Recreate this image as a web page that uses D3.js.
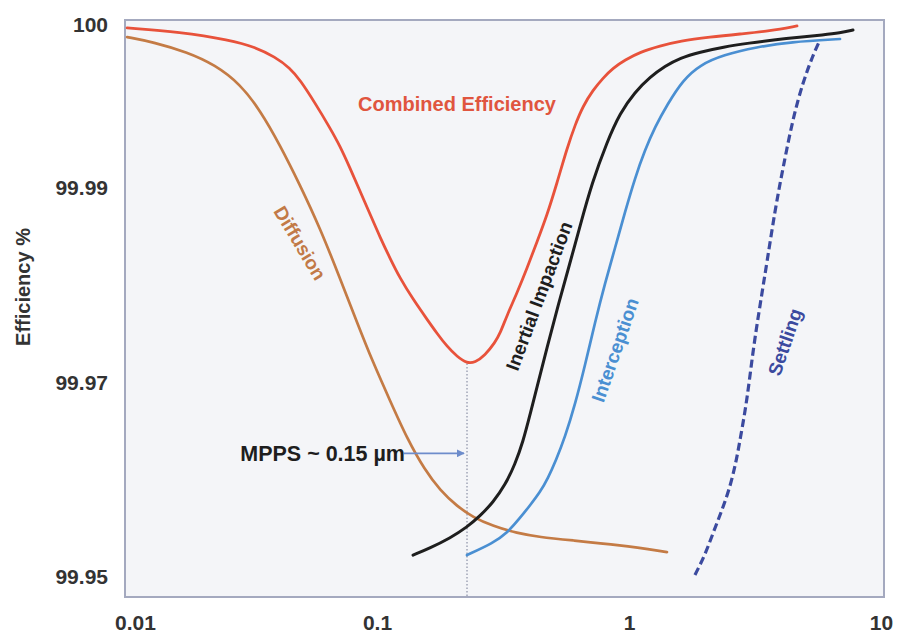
<!DOCTYPE html>
<html>
<head>
<meta charset="utf-8">
<script src="https://cdn.jsdelivr.net/npm/d3@7"></script>
<style>
  html, body { margin: 0; padding: 0; background: #ffffff; }
  svg { display: block; }
  text { font-family: "Liberation Sans", Arial, Helvetica, sans-serif; font-weight: bold; }
</style>
</head>
<body>
<svg id="chart" width="903" height="635"></svg>
<script>
// ---------- DATA (particle diameter in µm, efficiency in %) ----------
const xTicks = [0.01, 0.1, 1, 10];
const xTickLabels = ["0.01", "0.1", "1", "10"];
const yTicks = [99.95, 99.97, 99.99, 100];
const yTickLabels = ["99.95", "99.97", "99.99", "100"];

const combinedX = [0.0102, 0.0165, 0.0261, 0.0328, 0.0394, 0.0452, 0.0495, 0.0568, 0.0651, 0.0713, 0.0781, 0.0856, 0.0938, 0.1028, 0.1126, 0.1234, 0.139, 0.158, 0.173, 0.1896, 0.2077, 0.2276, 0.245, 0.268, 0.294, 0.308, 0.328, 0.359, 0.394, 0.431, 0.473, 0.518, 0.568, 0.611, 0.657, 0.720, 0.789, 0.864, 0.964, 1.106, 1.327, 1.594, 2.096, 2.757, 3.626, 4.642];
const combinedY = [99.99982, 99.99957, 99.99908, 99.99865, 99.99804, 99.99736, 99.99663, 99.99521, 99.99368, 99.99258, 99.99123, 99.98969, 99.98733, 99.98496, 99.98280, 99.98075, 99.97859, 99.97653, 99.97509, 99.97375, 99.97272, 99.97201, 99.97211, 99.97283, 99.97416, 99.97509, 99.97694, 99.97920, 99.98177, 99.98445, 99.98722, 99.99031, 99.99245, 99.99387, 99.99503, 99.99601, 99.99675, 99.99736, 99.99785, 99.99834, 99.99871, 99.99902, 99.99926, 99.99945, 99.99963, 99.99994];

const diffusionX = [0.0102, 0.0129, 0.0176, 0.0228, 0.0286, 0.0343, 0.0412, 0.0495, 0.0594, 0.0713, 0.0833, 0.0964, 0.1126, 0.1315, 0.155, 0.178, 0.2077, 0.240, 0.289, 0.359, 0.4435, 0.583, 0.921, 1.415];
const diffusionY = [99.99926, 99.99896, 99.99834, 99.99755, 99.99638, 99.99479, 99.99264, 99.99018, 99.98589, 99.98075, 99.97622, 99.97211, 99.96820, 99.96429, 99.96100, 99.95895, 99.95730, 99.95617, 99.95524, 99.95452, 99.95411, 99.95380, 99.95329, 99.95257];

const impactionX = [0.139, 0.162, 0.195, 0.2276, 0.256, 0.289, 0.322, 0.353, 0.380, 0.405, 0.431, 0.473, 0.523, 0.583, 0.639, 0.713, 0.818, 0.921, 1.056, 1.212, 1.390, 1.594, 1.913, 2.360, 3.021, 3.728, 4.771, 5.887, 6.877, 7.743];
const impactionY = [99.95226, 99.95298, 99.95401, 99.95514, 99.95627, 99.95771, 99.95946, 99.96162, 99.96398, 99.96676, 99.96954, 99.97365, 99.97797, 99.98229, 99.98609, 99.99031, 99.99282, 99.99460, 99.99589, 99.99681, 99.99748, 99.99798, 99.99834, 99.99865, 99.99890, 99.99908, 99.99926, 99.99939, 99.99951, 99.99969];

const interceptionX = [0.2276, 0.289, 0.328, 0.369, 0.405, 0.4435, 0.477, 0.513, 0.557, 0.611, 0.669, 0.733, 0.803, 0.880, 0.964, 1.056, 1.157, 1.268, 1.415, 1.638, 1.913, 2.360, 3.221, 4.354, 6.877];
const interceptionY = [99.95226, 99.95350, 99.95452, 99.95607, 99.95740, 99.95874, 99.96018, 99.96203, 99.96440, 99.96779, 99.97180, 99.97622, 99.98023, 99.98383, 99.98753, 99.99061, 99.99233, 99.99374, 99.99509, 99.99663, 99.99755, 99.99816, 99.99865, 99.99896, 99.99914];

const settlingX = [1.827, 2.002, 2.154, 2.339, 2.516, 2.658, 2.757, 2.940, 3.105, 3.310, 3.528, 3.797, 4.084, 4.475, 4.903, 5.373, 5.727];
const settlingY = [99.95021, 99.95226, 99.95452, 99.95689, 99.95925, 99.96183, 99.96409, 99.96820, 99.97334, 99.97797, 99.98239, 99.98774, 99.99123, 99.99429, 99.99650, 99.99816, 99.99908];

const mppsX = 0.2276;          // position of the MPPS marker line
const mppsY = 99.97201;        // minimum of combined efficiency
const mppsArrowFromX = 0.128;  // arrow tail
const mppsArrowY = 99.96275;

const seriesNames = ["Combined Efficiency", "Diffusion", "Inertial Impaction", "Interception", "Settling"];

// ---------- LAYOUT ----------
const svg = d3.select("#chart");
const plot = { left: 125, right: 884, top: 20, bottom: 597 };

const x = d3.scaleLog().domain([0.01, 10]).range([125, 881]);
const y = d3.scaleLinear().domain(yTicks).range([577, 383, 188, 25]);

// plot background + frame
svg.append("rect")
  .attr("x", plot.left).attr("y", plot.top)
  .attr("width", plot.right - plot.left).attr("height", plot.bottom - plot.top)
  .attr("fill", "#f4f5f8")
  .attr("stroke", "#a4a9bf").attr("stroke-width", 2);

// axes
const yAxis = d3.axisLeft(y).tickValues(yTicks).tickSize(0).tickPadding(17)
  .tickFormat((d) => yTickLabels[yTicks.indexOf(d)]);
const gy = svg.append("g").attr("transform", `translate(${plot.left},0)`).call(yAxis);
gy.select(".domain").remove();
gy.selectAll("text").attr("font-size", 21).attr("fill", "#333").style("font-family", null);

const xAxis = d3.axisBottom(x).tickValues(xTicks).tickSize(0).tickPadding(18)
  .tickFormat((d) => xTickLabels[xTicks.indexOf(d)]);
const gx = svg.append("g").attr("transform", `translate(0,${plot.bottom})`).call(xAxis);
gx.select(".domain").remove();
gx.selectAll("text").attr("font-size", 21).attr("fill", "#333").style("font-family", null)
  .attr("dx", (d, i) => i === 0 ? 10 : 0);

// y axis title
svg.append("text")
  .attr("transform", "translate(23,287) rotate(-90)")
  .attr("text-anchor", "middle").attr("dy", "0.35em")
  .attr("font-size", 20).attr("fill", "#333")
  .text("Efficiency %");

// ---------- CURVES ----------
const line = d3.line().x(d => x(d[0])).y(d => y(d[1])).curve(d3.curveBasis);
const zip = (a, b) => a.map((v, i) => [v, b[i]]);

// MPPS dotted vertical
svg.append("line")
  .attr("x1", x(mppsX)).attr("x2", x(mppsX))
  .attr("y1", y(mppsY)).attr("y2", plot.bottom - 1)
  .attr("stroke", "#8a90a6").attr("stroke-width", 1.2).attr("stroke-dasharray", "1.5,2");

const series = [
  { xs: diffusionX, ys: diffusionY, color: "#c47b45", w: 2.7 },
  { xs: interceptionX, ys: interceptionY, color: "#4a8fd2", w: 2.7 },
  { xs: settlingX, ys: settlingY, color: "#3b4a9f", w: 3.2, dash: "8,4" },
  { xs: impactionX, ys: impactionY, color: "#1e1e1e", w: 3 },
  { xs: combinedX, ys: combinedY, color: "#e8523b", w: 2.8 }
];
series.forEach(s => {
  svg.append("path")
    .attr("d", line(zip(s.xs, s.ys)))
    .attr("fill", "none")
    .attr("stroke", s.color).attr("stroke-width", s.w)
    .attr("stroke-linecap", s.dash ? "butt" : "round")
    .attr("stroke-dasharray", s.dash || null);
});

// MPPS arrow
const defs = svg.append("defs");
defs.append("marker").attr("id", "arrow")
  .attr("viewBox", "0 0 10 10").attr("refX", 9).attr("refY", 5)
  .attr("markerWidth", 5).attr("markerHeight", 5).attr("orient", "auto")
  .append("path").attr("d", "M0,0 L10,5 L0,10 Z").attr("fill", "#6d8ccb");
svg.append("line")
  .attr("x1", x(mppsArrowFromX)).attr("x2", x(mppsX) - 3)
  .attr("y1", y(mppsArrowY)).attr("y2", y(mppsArrowY))
  .attr("stroke", "#6d8ccb").attr("stroke-width", 1.6)
  .attr("marker-end", "url(#arrow)");

// ---------- LABELS ----------
const labels = [
  { t: seriesNames[0], cx: 457, cy: 104, rot: 0, color: "#e0553f", size: 20 },
  { t: seriesNames[1], cx: 300, cy: 243, rot: 59, color: "#c27a47", size: 19 },
  { t: seriesNames[2], cx: 539, cy: 296, rot: -69.5, color: "#1e1e1e", size: 19 },
  { t: seriesNames[3], cx: 615, cy: 350, rot: -71, color: "#4a8fd2", size: 19 },
  { t: seriesNames[4], cx: 785, cy: 342, rot: -71, color: "#3b4a9f", size: 19 }
];
labels.forEach(l => {
  svg.append("text")
    .attr("transform", `translate(${l.cx},${l.cy}) rotate(${l.rot})`)
    .attr("text-anchor", "middle").attr("dy", "0.35em")
    .attr("font-size", l.size).attr("fill", l.color)
    .text(l.t);
});

svg.append("text")
  .attr("x", 405).attr("y", y(mppsArrowY)).attr("dy", "0.36em")
  .attr("text-anchor", "end").attr("font-size", 21.5).attr("fill", "#1e1e1e")
  .text("MPPS ~ 0.15 µm");
</script>
</body>
</html>
